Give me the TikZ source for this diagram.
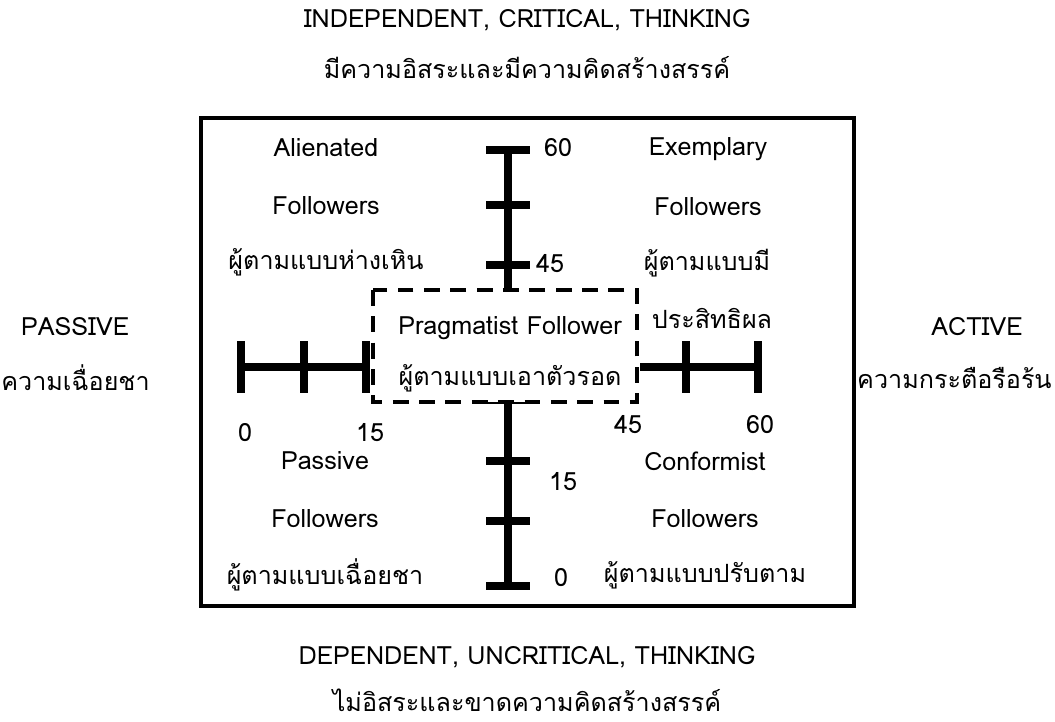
\documentclass[tikz,border=0pt]{standalone}
\usepackage{fontspec}
\setmainfont[Script=Thai]{Loma}
\begin{document}
\begin{tikzpicture}[x=0.02cm,y=-0.02cm,
  lbl/.style={font=\fontsize{14.3}{16}\selectfont, inner sep=1pt},
  axisbar/.style={line width=4.5pt},
  tickbar/.style={line width=4.5pt},
  frame/.style={line width=2.3pt},
  dashbox/.style={line width=2pt, dash pattern=on 9pt off 6pt}]
\useasboundingbox (0,0) rectangle (1055,721);
% outer frame
\draw[frame] (201,118) rectangle (854,606);
% axes (named coordinates)
\coordinate (hL0) at (241,367);
\coordinate (hL15) at (366,367);
\coordinate (hR45) at (640,367);
\coordinate (hR60) at (758,367);
\coordinate (vT60) at (508,150);
\coordinate (vT45) at (508,290);
\coordinate (vB15) at (508,400);
\coordinate (vB0) at (508,586);
\draw[axisbar] (hL0) -- (hL15);
\draw[axisbar] (hR45) -- (hR60);
\draw[axisbar] (vT60) -- (vT45);
\draw[axisbar] (vB15) -- (vB0);
% ticks horizontal
\foreach \x in {241,304,366,686,758}
  \draw[tickbar] (\x,341) -- (\x,393);
% ticks vertical
\foreach \y in {150,205,265,400,461,521,586}
  \draw[tickbar] (486,\y) -- (530,\y);
% dashed box
\fill[white] (373,290) rectangle (637,402);
\draw[dashbox] (373,290) rectangle (637,402);
% texts
\node[lbl] (indep) at (527,20) {INDEPENDENT, CRITICAL, THINKING};
\node[lbl] (indepth) at (527,68) {มีความอิสระและมีความคิดสร้างสรรค์};
\node[lbl] (dep) at (527,657) {DEPENDENT, UNCRITICAL, THINKING};
\node[lbl, inner sep=0pt] (depth) at (527,700) {ไม่อิสระและขาดความคิดสร้างสรรค์};
\node[lbl] (pas) at (75,327) {PASSIVE};
\node[lbl, anchor=west, inner sep=0pt] (pasth) at (1,378) {ความเฉื่อยชา};
\node[lbl] (act) at (977,327) {ACTIVE};
\node[lbl, anchor=east, inner sep=0pt] (actth) at (1052,378) {ความกระตือรือร้น};
\node[lbl] (al1) at (326,148) {Alienated};
\node[lbl] (al2) at (326,206) {Followers};
\node[lbl] (al3) at (326,262) {ผู้ตามแบบห่างเหิน};
\node[lbl] (ex1) at (708,149) {Exemplary};
\node[lbl] (ex2) at (708,207) {Followers};
\node[lbl] (ex3) at (707,263) {ผู้ตามแบบมี};
\node[lbl] (ex4) at (712,318) {ประสิทธิผล};
\node[lbl] (pr1) at (510,328) {Pragmatist Follower};
\node[lbl] (pr2) at (510,378) {ผู้ตามแบบเอาตัวรอด};
\node[lbl] (pa1) at (325,461) {Passive};
\node[lbl] (pa2) at (325,519) {Followers};
\node[lbl] (pa3) at (325,575) {ผู้ตามแบบเฉื่อยชา};
\node[lbl] (co1) at (705,461) {Conformist};
\node[lbl] (co2) at (705,519) {Followers};
\node[lbl] (co3) at (705,575) {ผู้ตามแบบปรับตาม};
\node[lbl] (n60t) at (558,148) {60};
\node[lbl] (n45t) at (550,264) {45};
\node[lbl] (n15b) at (563,482) {15};
\node[lbl] (n0b) at (561,578) {0};
\node[lbl] (n0l) at (245,433) {0};
\node[lbl] (n15l) at (370,433) {15};
\node[lbl] (n45r) at (628,425) {45};
\node[lbl] (n60r) at (760,425) {60};
\end{tikzpicture}
\end{document}
